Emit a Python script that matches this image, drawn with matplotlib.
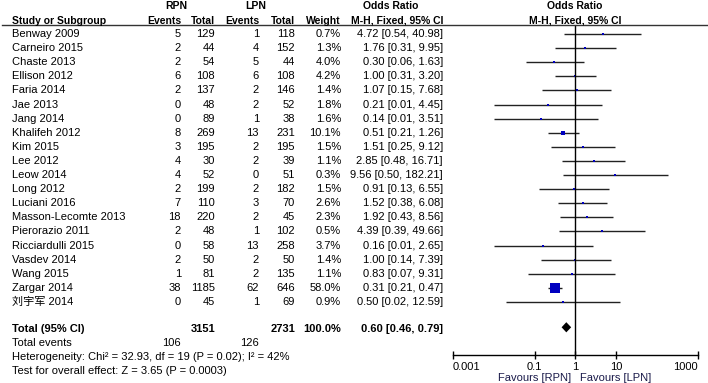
import matplotlib
matplotlib.use('Agg')
import matplotlib.pyplot as plt
import matplotlib.transforms as mtransforms
from matplotlib.lines import Line2D
import numpy as np

plt.rcParams['font.family'] = ['Liberation Sans', 'Noto Sans CJK SC', 'DejaVu Sans']

# data
studies = ['Benway 2009', 'Carneiro 2015', 'Chaste 2013', 'Ellison 2012', 'Faria 2014',
           'Jae 2013', 'Jang 2014', 'Khalifeh 2012', 'Kim 2015', 'Lee 2012', 'Leow 2014',
           'Long 2012', 'Luciani 2016', 'Masson-Lecomte 2013', 'Pierorazio 2011',
           'Ricciardulli 2015', 'Vasdev 2014', 'Wang 2015', 'Zargar 2014', '刘宇军 2014']
rpn_events = [5, 2, 2, 6, 2, 0, 0, 8, 3, 4, 4, 2, 7, 18, 2, 0, 2, 1, 38, 0]
rpn_total = [129, 44, 54, 108, 137, 48, 89, 269, 195, 30, 52, 199, 110, 220, 48, 58, 50, 81, 1185, 45]
lpn_events = [1, 4, 5, 6, 2, 2, 1, 13, 2, 2, 0, 2, 3, 2, 1, 13, 2, 2, 62, 1]
lpn_total = [118, 152, 44, 108, 146, 52, 38, 231, 195, 39, 51, 182, 70, 45, 102, 258, 50, 135, 646, 69]
weights = [0.7, 1.3, 4.0, 4.2, 1.4, 1.8, 1.6, 10.1, 1.5, 1.1, 0.3, 1.5, 2.6, 2.3, 0.5, 3.7, 1.4, 1.1, 58.0, 0.9]
odds = [4.72, 1.76, 0.30, 1.00, 1.07, 0.21, 0.14, 0.51, 1.51, 2.85, 9.56, 0.91, 1.52, 1.92, 4.39, 0.16, 1.00, 0.83, 0.31, 0.50]
ci_low = [0.54, 0.31, 0.06, 0.31, 0.15, 0.01, 0.01, 0.21, 0.25, 0.48, 0.50, 0.13, 0.38, 0.43, 0.39, 0.01, 0.14, 0.07, 0.21, 0.02]
ci_high = [40.98, 9.95, 1.63, 3.20, 7.68, 4.45, 3.51, 1.26, 9.12, 16.71, 182.21, 6.55, 6.08, 8.56, 49.66, 2.65, 7.39, 9.31, 0.47, 12.59]

total_or, total_low, total_high = 0.60, 0.46, 0.79
total_rpn, total_lpn = 3151, 2731
events_rpn, events_lpn = 106, 126
tick_vals = [0.001, 0.1, 1, 10, 1000]
tick_labels = ['0.001', '0.1', '1', '10', '1000']

W, H = 708, 383
fig = plt.figure(figsize=(W / 100, H / 100), dpi=100)

# forest panel: pixel box 453..697.7 wide, 25..354.7 tall
ax = fig.add_axes([453 / W, 1 - 354.7 / H, 244.7 / W, 329.7 / H])
ax.set_xscale('log')
ax.set_xlim(0.001, 1000)
row_h = 14.1
ax.set_ylim((354.7 - 34) / row_h, (25 - 34) / row_h)

rows = np.arange(len(studies))
ax.hlines(rows, ci_low, ci_high, color='#222222', lw=1)
for r, o, w in zip(rows, odds, weights):
    ms = max(7.2 * np.sqrt(w / 58.0), 1.6)
    ax.plot(o, r, marker='s', ms=ms, color='#0000c0', mec='#0000c0', mew=0, ls='none')

total_row = 20.8
dh = 0.36
ax.fill([total_low, total_or, total_high, total_or],
        [total_row, total_row - dh, total_row, total_row + dh], color='black', lw=0)
ax.axvline(1, color='black', lw=1)

for s in ['top', 'left', 'right']:
    ax.spines[s].set_visible(False)
ax.spines['bottom'].set_linewidth(1)
ax.set_yticks([])
ax.set_xticks(tick_vals)
ax.set_xticklabels(tick_labels)
ax.minorticks_off()
ax.tick_params(axis='x', direction='inout', length=6, width=1, labelsize=8, pad=2)
xt = ax.get_xticklabels()
xt[0].set_horizontalalignment('left')
xt[-1].set_horizontalalignment('right')

fav = mtransforms.blended_transform_factory(ax.transData, ax.transAxes)
ax.text(0.78, -0.07, 'Favours [RPN]', transform=fav, ha='right', va='center', fontsize=8, color='#1a1a4a')
ax.text(1.28, -0.07, 'Favours [LPN]', transform=fav, ha='left', va='center', fontsize=8, color='#1a1a4a')

# table text, x in figure pixels, y in forest rows
tr = mtransforms.blended_transform_factory(fig.transFigure, ax.transData)

def put(x, row, s, ha='right', bold=False, size=8):
    fig.text(x / W, row, s, transform=tr, ha=ha, va='center', fontsize=size,
             fontweight='bold' if bold else 'normal', color='black')

hr1, hr2 = -1.99, -0.94
put(176, hr1, 'RPN', ha='center', bold=True, size=7.5)
put(256, hr1, 'LPN', ha='center', bold=True, size=7.5)
put(391, hr1, 'Odds Ratio', ha='center', bold=True, size=7.5)
put(575, hr1, 'Odds Ratio', ha='center', bold=True, size=7.5)
put(12, hr2, 'Study or Subgroup', ha='left', bold=True, size=7.5)
put(181, hr2, 'Events', bold=True, size=7.5)
put(215, hr2, 'Total', bold=True, size=7.5)
put(259, hr2, 'Events', bold=True, size=7.5)
put(295, hr2, 'Total', bold=True, size=7.5)
put(341, hr2, 'Weight', bold=True, size=7.5)
put(443, hr2, 'M-H, Fixed, 95% CI', bold=True, size=7.5)
put(575, hr2, 'M-H, Fixed, 95% CI', ha='center', bold=True, size=7.5)

fig.add_artist(Line2D([2 / W, 1], [1 - 25 / H, 1 - 25 / H], color='#333333', lw=1))

for i, name in enumerate(studies):
    put(12, i, name, ha='left')
    put(181, i, str(rpn_events[i]))
    put(215, i, str(rpn_total[i]))
    put(259, i, str(lpn_events[i]))
    put(295, i, str(lpn_total[i]))
    put(341, i, f'{weights[i]:.1f}%')
    put(443, i, f'{odds[i]:.2f} [{ci_low[i]:.2f}, {ci_high[i]:.2f}]')

put(12, 20.94, 'Total (95% CI)', ha='left', bold=True)
put(215, 20.94, str(total_rpn), bold=True)
put(295, 20.94, str(total_lpn), bold=True)
put(341, 20.94, '100.0%', bold=True)
put(443, 20.94, f'{total_or:.2f} [{total_low:.2f}, {total_high:.2f}]', bold=True)
put(12, 21.94, 'Total events', ha='left')
put(181, 21.94, str(events_rpn))
put(259, 21.94, str(events_lpn))
put(12, 22.93, 'Heterogeneity: Chi² = 32.93, df = 19 (P = 0.02); I² = 42%', ha='left')
put(12, 23.88, 'Test for overall effect: Z = 3.65 (P = 0.0003)', ha='left')

fig.savefig('out.png', dpi=100)
